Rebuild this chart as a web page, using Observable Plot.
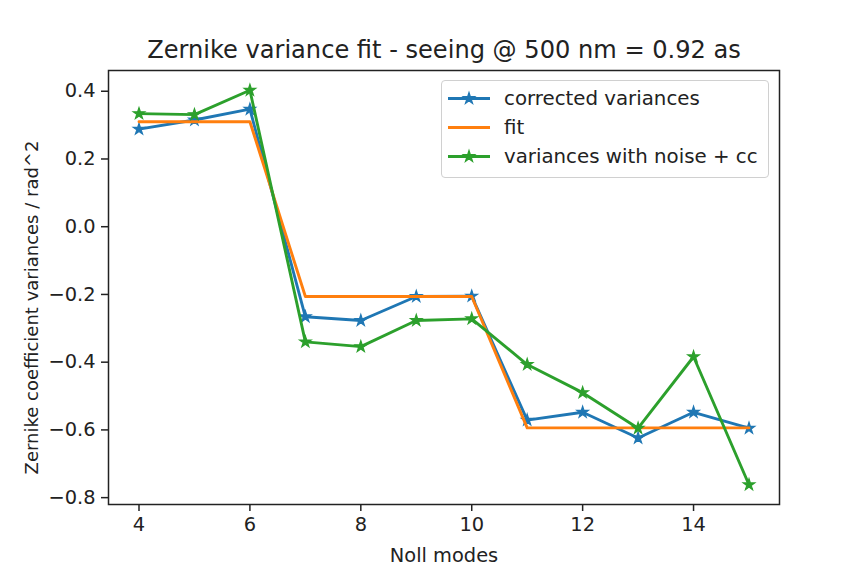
<!DOCTYPE html>
<html>
<head>
<meta charset="utf-8">
<script src="https://cdn.jsdelivr.net/npm/d3@7"></script>
<script src="https://cdn.jsdelivr.net/npm/@observablehq/plot@0.6"></script>
<style>
html, body { margin: 0; padding: 0; background: #fff; }
#wrap { position: relative; width: 864px; height: 576px; font-family: "DejaVu Sans", sans-serif; }
#legend { position: absolute; left: 441px; top: 80px; width: 328px; height: 98px; box-sizing: border-box;
  border: 1px solid #d0d0d0; border-radius: 4px; background: rgba(255,255,255,0.8); }
.row { position: absolute; left: 0; height: 29px; width: 100%; }
.row svg { position: absolute; left: 4px; top: 0; }
.row span { position: absolute; left: 62px; top: 0; line-height: 29px; font-size: 19.8px; color: #222; white-space: nowrap; }
</style>
</head>
<body>
<div id="wrap"></div>
<script>
// ---- data ----
const modes = [4, 5, 6, 7, 8, 9, 10, 11, 12, 13, 14, 15];
const corrected = [0.288, 0.315, 0.347, -0.266, -0.277, -0.206, -0.205, -0.571, -0.548, -0.624, -0.548, -0.595];
const fit = [0.310, 0.310, 0.310, -0.206, -0.206, -0.206, -0.206, -0.594, -0.594, -0.594, -0.594, -0.594];
const noisy = [0.334, 0.331, 0.403, -0.340, -0.354, -0.277, -0.272, -0.407, -0.490, -0.595, -0.384, -0.762];
const seriesNames = ["corrected variances", "fit", "variances with noise + cc"];
const seriesColors = ["#1f77b4", "#ff7f0e", "#2ca02c"];
const seriesMarkers = [true, false, true];
const xTicks = [4, 6, 8, 10, 12, 14];
const yTicks = [-0.8, -0.6, -0.4, -0.2, 0.0, 0.2, 0.4];
const title = "Zernike variance fit - seeing @ 500 nm = 0.92 as";
const xLabel = "Noll modes";
const yLabel = "Zernike coefficient variances / rad^2";

// ---- build table ----
const seriesValues = [corrected, fit, noisy];
const series = seriesValues.map((vals, i) => modes.map((m, j) => ({mode: m, value: vals[j], name: seriesNames[i]})));

// matplotlib-like 5% margins
const pad = (lo, hi) => { const d = (hi - lo) * 0.05; return [lo - d, hi + d]; };
const allVals = seriesValues.flat();
const xDomain = pad(d3.min(modes), d3.max(modes));
const yDomain = pad(d3.min(allVals), d3.max(allVals));

const ink = "#222";
const font = "DejaVu Sans";

const marks = [];
series.forEach((data, i) => {
  marks.push(Plot.line(data, {x: "mode", y: "value", stroke: seriesColors[i], strokeWidth: 2.9, strokeLinejoin: "round"}));
  if (seriesMarkers[i]) {
    marks.push(Plot.dot(data, {x: "mode", y: "value", symbol: d3.symbolStar, r: 3.6,
      fill: seriesColors[i], stroke: seriesColors[i], strokeWidth: 1.2}));
  }
});

const chart = Plot.plot({
  width: 864,
  height: 576,
  marginLeft: 108,
  marginRight: 85,
  marginTop: 70,
  marginBottom: 72,
  style: {fontFamily: font, fontSize: "19.4px", color: ink, background: "#fff"},
  x: {domain: xDomain, label: null},
  y: {domain: yDomain, label: null},
  marks: [
    ...marks,
    Plot.frame({stroke: ink, strokeWidth: 1.5}),
    Plot.axisX({ticks: xTicks, tickSize: 7, tickPadding: 6, tickFormat: d => String(d), fontSize: 19.4, strokeWidth: 1.5, label: null}),
    Plot.axisY({ticks: yTicks, tickSize: 7, tickPadding: 6, tickFormat: d3.format(".1f"), fontSize: 19.4, strokeWidth: 1.5, label: null}),
    Plot.text([title], {text: d => d, frameAnchor: "top", dy: -13, lineAnchor: "bottom", fontSize: 24.1, fill: ink}),
    Plot.text([xLabel], {text: d => d, frameAnchor: "bottom", dy: 57.5, lineAnchor: "bottom", fontSize: 19.4, fill: ink}),
    Plot.text([yLabel], {text: d => d, frameAnchor: "left", textAnchor: "middle", dx: -70.5, dy: 20, rotate: -90, lineAnchor: "bottom", fontSize: 18, fill: ink})
  ]
});

const wrap = document.getElementById("wrap");
wrap.appendChild(chart);

// ---- legend (HTML overlay) ----
const legend = document.createElement("div");
legend.id = "legend";
seriesNames.forEach((name, i) => {
  const row = document.createElement("div");
  row.className = "row";
  row.style.top = (2.5 + i * 29) + "px";
  const sw = d3.create("svg").attr("width", 46).attr("height", 29);
  sw.append("line").attr("x1", 2).attr("x2", 44).attr("y1", 14.5).attr("y2", 14.5)
    .attr("stroke", seriesColors[i]).attr("stroke-width", 2.9);
  if (seriesMarkers[i]) {
    sw.append("path").attr("d", d3.symbol(d3.symbolStar, Math.PI * 3.6 * 3.6)())
      .attr("transform", "translate(23,14.5)")
      .attr("fill", seriesColors[i]).attr("stroke", seriesColors[i]).attr("stroke-width", 1.2);
  }
  row.appendChild(sw.node());
  const span = document.createElement("span");
  span.textContent = name;
  row.appendChild(span);
  legend.appendChild(row);
});
wrap.appendChild(legend);
</script>
</body>
</html>
